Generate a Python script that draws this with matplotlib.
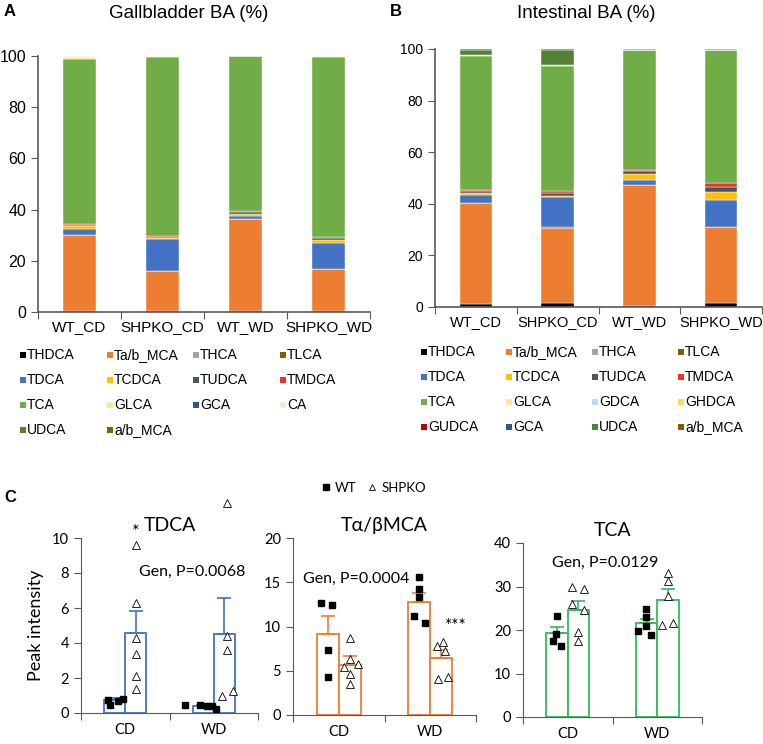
import numpy as np
import matplotlib
matplotlib.use("Agg")
import matplotlib.pyplot as plt
from matplotlib.patches import Rectangle
from matplotlib.lines import Line2D

# ---------------- data : stacked percentages ----------------
groups = ["WT_CD", "SHPKO_CD", "WT_WD", "SHPKO_WD"]

# Gallbladder (panel A)
gb_names = ["THDCA", "Ta/b_MCA", "THCA", "TLCA", "TDCA", "TCDCA", "TUDCA", "TMDCA",
            "TCA", "GLCA", "GCA", "CA", "UDCA", "a/b_MCA"]
gb_colors = ["#000000", "#ED7D31", "#A5A5A5", "#7F6000", "#4472C4", "#FFC000", "#44546A",
             "#EE3322", "#70AD47", "#FFE699", "#2F5597", "#FBE5D6", "#548235", "#7F6000"]
gb_wt_cd = [0.5, 29.6, 0, 0, 2.5, 0.8, 0.6, 0.4, 64.6, 0.8, 0, 0.2, 0, 0]
gb_shpko_cd = [0.3, 15.7, 0, 0, 12.5, 0.4, 0.3, 0.4, 69.9, 0.4, 0, 0.1, 0, 0]
gb_wt_wd = [0.2, 36.2, 0, 0, 1.1, 0.9, 0.6, 0.4, 60.5, 0.1, 0, 0, 0, 0]
gb_shpko_wd = [0.2, 16.5, 0, 0, 10.2, 1.1, 0.9, 0.3, 70.6, 0.1, 0, 0.1, 0, 0]

# Intestine (panel B)
in_names = ["THDCA", "Ta/b_MCA", "THCA", "TLCA", "TDCA", "TCDCA", "TUDCA", "TMDCA",
            "TCA", "GLCA", "GDCA", "GHDCA", "GUDCA", "GCA", "UDCA", "a/b_MCA"]
in_colors = ["#000000", "#ED7D31", "#A5A5A5", "#7F6000", "#4472C4", "#FFC000", "#44546A",
             "#EE3322", "#70AD47", "#FFE699", "#C5D8F0", "#FFD966", "#C00000", "#2F5597",
             "#548235", "#7F6000"]
in_wt_cd = [1.0, 39.4, 0, 0, 3.1, 0.8, 0.5, 0.5, 51.9, 0.4, 0, 0, 0, 0, 2.2, 0.2]
in_shpko_cd = [1.6, 29.0, 0, 0.3, 11.8, 0.4, 1.0, 0.9, 48.5, 0.4, 0, 0, 0, 0, 5.9, 0.2]
in_wt_wd = [0.5, 46.8, 0, 0, 1.9, 2.4, 1.1, 0.4, 46.5, 0.2, 0, 0, 0, 0, 0.2, 0.2]
in_shpko_wd = [1.5, 29.5, 0, 0, 10.5, 2.9, 2.0, 1.5, 51.7, 0.2, 0, 0, 0, 0, 0.2, 0.2]

# ---------------- data : panel C (peak intensity) ----------------
diets = ["CD", "WD"]

tdca_mean_wt = [0.76, 0.40]
tdca_err_wt = [0.10, 0.05]
tdca_mean_ko = [4.59, 4.53]
tdca_err_ko = [1.22, 2.06]
tdca_pts_wt_cd = [0.76, 0.48, 0.67, 0.82]
tdca_pts_ko_cd = [9.6, 6.3, 4.3, 3.4, 2.1, 1.4]
tdca_pts_wt_wd = [0.44, 0.48, 0.40, 0.40, 0.25]
tdca_pts_ko_wd = [12.0, 4.4, 3.6, 0.97, 1.24]

mca_mean_wt = [9.1, 12.8]
mca_err_wt = [2.05, 0.95]
mca_mean_ko = [5.7, 6.4]
mca_err_ko = [0.95, 1.0]
mca_pts_wt_cd = [12.67, 12.48, 7.33, 4.32]
mca_pts_ko_cd = [8.72, 6.28, 5.38, 5.71, 4.62, 3.46]
mca_pts_wt_wd = [15.6, 14.2, 13.3, 11.2, 10.45]
mca_pts_ko_wd = [7.82, 8.2, 7.26, 4.06, 4.32]

tca_mean_wt = [19.2, 21.5]
tca_err_wt = [1.5, 1.1]
tca_mean_ko = [24.6, 26.9]
tca_err_ko = [2.1, 2.5]
tca_pts_wt_cd = [23.2, 19.0, 17.4, 16.3]
tca_pts_ko_cd = [29.9, 29.4, 26.0, 24.5, 19.5, 17.5]
tca_pts_wt_wd = [24.8, 22.9, 20.9, 19.8, 18.9]
tca_pts_ko_wd = [33.2, 31.2, 27.8, 21.1, 21.6]

# horizontal position of the dots (x axis units)
tdca_x = [[0.31, 0.33, 0.42, 0.48], [0.62] * 6, [1.18, 1.34, 1.42, 1.48, 1.53], [1.65, 1.65, 1.65, 1.59, 1.72]]
mca_x = [[0.31, 0.43, 0.38, 0.38], [0.62, 0.62, 0.56, 0.71, 0.62, 0.62], [1.38, 1.38, 1.38, 1.32, 1.44],
         [1.57, 1.64, 1.66, 1.59, 1.69]]
tca_x = [[0.38, 0.37, 0.33, 0.42], [0.55, 0.68, 0.55, 0.68, 0.61, 0.61], [1.37, 1.37, 1.37, 1.29, 1.43],
         [1.62, 1.62, 1.62, 1.55, 1.68]]

W, H = 763, 744
fig = plt.figure(figsize=(W / 100, H / 100), dpi=100)
ab_font = "Liberation Sans"
c_font = "Lato"


def fbox(l, t, r, b):
    return [l / W, 1 - b / H, (r - l) / W, (b - t) / H]


def stacked(ax, names, colors, series, ytick_size, xtick_size):
    data = np.array(series).T  # component x group
    x = np.arange(len(groups)) + 0.5
    bottom = np.zeros(len(groups))
    for i, name in enumerate(names):
        ax.bar(x, data[i], 0.4, bottom=bottom, color=colors[i], edgecolor="white", linewidth=0.3)
        bottom += data[i]
    ax.set_xlim(0, 4)
    ax.set_ylim(0, 100)
    ax.set_yticks(range(0, 101, 20))
    ax.set_xticks([0, 1, 2, 3, 4])
    ax.set_xticklabels([])
    ax.set_xticks(x, minor=True)
    ax.set_xticklabels(groups, minor=True, fontsize=xtick_size, family=ab_font)
    ax.tick_params(axis="x", which="major", length=5, direction="out", color="#595959")
    ax.tick_params(axis="x", which="minor", length=0, pad=6)
    ax.tick_params(axis="y", length=5, direction="out", color="#595959", labelsize=ytick_size)
    for lab in ax.get_yticklabels():
        lab.set_family(ab_font)
    for s in ["top", "right"]:
        ax.spines[s].set_visible(False)
    for s in ["left", "bottom"]:
        ax.spines[s].set_color("#595959")
        ax.spines[s].set_linewidth(1.2)


def legend_grid(names, colors, xs, ys):
    for k, (n, c) in enumerate(zip(names, colors)):
        col, row = k % 4, k // 4
        x0, y0 = xs[col], ys[row]
        fig.patches.append(Rectangle(((x0 - 3) / W, 1 - (y0 + 3) / H), 6 / W, 6 / H,
                                     transform=fig.transFigure, facecolor=c, edgecolor="none"))
        fig.text((x0 + 4) / W, 1 - y0 / H, n, fontsize=10, family=ab_font, va="center", ha="left")


# panel A
axA = fig.add_axes(fbox(38, 56, 370, 312))
stacked(axA, gb_names, gb_colors, [gb_wt_cd, gb_shpko_cd, gb_wt_wd, gb_shpko_wd], 11.5, 11)
fig.text(189 / W, 1 - 14 / H, "Gallbladder BA (%)", fontsize=13.5, family=ab_font, ha="center", va="center")
fig.text(4 / W, 1 - 11 / H, "A", fontsize=12, weight="bold", family=ab_font, va="center")
legend_grid(gb_names, gb_colors, [23, 110, 196, 283], [355, 380, 405, 430])

# panel B
axB = fig.add_axes(fbox(435, 49, 762, 307))
stacked(axB, in_names, in_colors, [in_wt_cd, in_shpko_cd, in_wt_wd, in_shpko_wd], 10, 10.5)
fig.text(586 / W, 1 - 13 / H, "Intestinal BA (%)", fontsize=13.5, family=ab_font, ha="center", va="center")
fig.text(390 / W, 1 - 11 / H, "B", fontsize=12, weight="bold", family=ab_font, va="center")
legend_grid(in_names, in_colors, [424, 509, 595, 681], [352, 377, 402, 427])


# panel C
def dot_panel(box, title, ymax, step, color, mean_wt, err_wt, mean_ko, err_ko, pts, xs):
    ax = fig.add_axes(box)
    cx = np.arange(len(diets)) + 0.5
    ax.bar(cx - 0.12, mean_wt, 0.24, facecolor="white", edgecolor=color, linewidth=1.3)
    ax.bar(cx + 0.12, mean_ko, 0.24, facecolor="white", edgecolor=color, linewidth=1.3)
    ax.errorbar(cx - 0.12, mean_wt, yerr=[np.zeros(2), err_wt], fmt="none", ecolor=color,
                elinewidth=1.2, capsize=5, capthick=1.2)
    ax.errorbar(cx + 0.12, mean_ko, yerr=[np.zeros(2), err_ko], fmt="none", ecolor=color,
                elinewidth=1.2, capsize=5, capthick=1.2)
    for i, (p, x) in enumerate(zip(pts, xs)):
        if i % 2 == 0:
            ax.plot(x, p, "s", color="black", markersize=4.8, clip_on=False, zorder=5)
        else:
            ax.plot(x, p, "^", markerfacecolor="white", markeredgecolor="black", markersize=5.5,
                    markeredgewidth=0.6, linestyle="none", clip_on=False, zorder=5)
    ax.set_xlim(0, 2)
    ax.set_ylim(0, ymax)
    ax.set_yticks(np.arange(0, ymax + 0.1, step))
    ax.set_xticks([0, 1, 2])
    ax.set_xticklabels([])
    ax.set_xticks(cx, minor=True)
    ax.set_xticklabels(diets, minor=True, fontsize=10.5, family=c_font)
    ax.tick_params(axis="x", which="major", length=5, color="#595959")
    ax.tick_params(axis="x", which="minor", length=0, pad=7)
    ax.tick_params(axis="y", length=5, color="#595959", labelsize=10.5)
    for lab in ax.get_yticklabels():
        lab.set_family(c_font)
    for s in ["top", "right"]:
        ax.spines[s].set_visible(False)
    for s in ["left", "bottom"]:
        ax.spines[s].set_color("#595959")
    ax.set_title(title, fontsize=14, family=c_font, pad=5)
    return ax


axC1 = dot_panel(fbox(81, 538, 258, 713), "TDCA", 10, 2, "#4472C4",
                 tdca_mean_wt, tdca_err_wt, tdca_mean_ko, tdca_err_ko,
                 [tdca_pts_wt_cd, tdca_pts_ko_cd, tdca_pts_wt_wd, tdca_pts_ko_wd], tdca_x)
axC1.set_ylabel("Peak intensity", fontsize=13, family=c_font, labelpad=6)
axC1.text(0.62, 10.35, "*", fontsize=13, ha="center", va="center", family=c_font)
axC1.text(0.65, 8.05, "Gen, P=0.0068", fontsize=11.5, ha="left", va="center", family=c_font)

axC2 = dot_panel(fbox(293, 538, 476, 715), "T\u03b1/\u03b2MCA", 20, 5, "#ED7D31",
                 mca_mean_wt, mca_err_wt, mca_mean_ko, mca_err_ko,
                 [mca_pts_wt_cd, mca_pts_ko_cd, mca_pts_wt_wd, mca_pts_ko_wd], mca_x)
axC2.text(1.66, 10.1, "***", fontsize=12.5, ha="left", va="center", family=c_font)
axC2.text(0.11, 15.4, "Gen, P=0.0004", fontsize=11.5, ha="left", va="center", family=c_font)

axC3 = dot_panel(fbox(523, 543, 702, 717), "TCA", 40, 10, "#33BB5C",
                 tca_mean_wt, tca_err_wt, tca_mean_ko, tca_err_ko,
                 [tca_pts_wt_cd, tca_pts_ko_cd, tca_pts_wt_wd, tca_pts_ko_wd], tca_x)
axC3.text(0.32, 35.5, "Gen, P=0.0129", fontsize=11.5, ha="left", va="center", family=c_font)

fig.text(4 / W, 1 - 497 / H, "C", fontsize=12, weight="bold", family=ab_font, va="center")
handles = [Line2D([], [], marker="s", color="black", linestyle="none", markersize=4),
           Line2D([], [], marker="^", markerfacecolor="white", markeredgecolor="black",
                  markeredgewidth=0.6, linestyle="none", markersize=4.5)]
fig.legend(handles, ["WT", "SHPKO"], loc="center", bbox_to_anchor=(372 / W, 1 - 488 / H), ncol=2,
           frameon=False, handletextpad=0.1, handlelength=1.2, columnspacing=0.6,
           prop={"family": c_font, "size": 9.5})

fig.savefig("out.png", dpi=100)
